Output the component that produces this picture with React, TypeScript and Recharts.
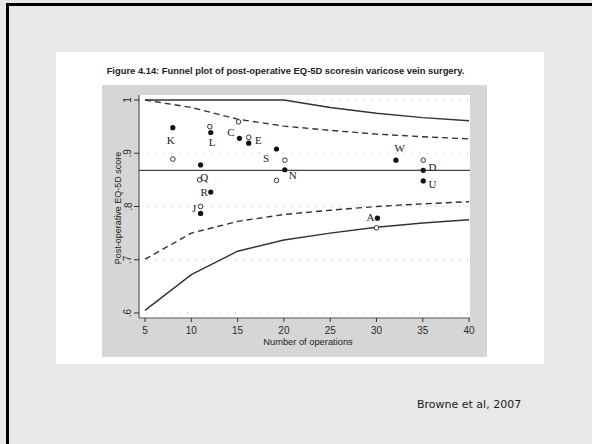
import React from "react";
import {
  ComposedChart,
  Line,
  Scatter,
  XAxis,
  YAxis,
  ReferenceLine,
} from "recharts";

// ---- data ----
const operations = [5, 10, 15, 20, 25, 30, 35, 40];
const upper998 = [1.0, 1.0, 1.0, 1.0, 0.986, 0.975, 0.967, 0.961];
const upper95 = [1.0, 0.986, 0.964, 0.951, 0.943, 0.936, 0.931, 0.927];
const lower95 = [0.701, 0.75, 0.772, 0.785, 0.793, 0.8, 0.805, 0.809];
const lower998 = [0.605, 0.672, 0.716, 0.737, 0.75, 0.761, 0.769, 0.775];
const meanScore = 0.868;

const filledX = [8, 12.1, 15.2, 16.2, 11, 12.1, 11, 19.2, 20.1, 32.1, 35.05, 35.05, 30.1];
const filledY = [0.948, 0.939, 0.928, 0.919, 0.878, 0.827, 0.787, 0.908, 0.869, 0.887, 0.868, 0.848, 0.778];
const openX = [8, 12, 15.1, 16.2, 10.9, 11, 20.1, 19.2, 35.05, 30];
const openY = [0.889, 0.95, 0.959, 0.93, 0.85, 0.8, 0.887, 0.849, 0.887, 0.76];

const labelText = ["K", "L", "C", "E", "Q", "R", "J", "S", "N", "W", "D", "U", "A"];
const labelX = [7.78, 12.26, 14.29, 17.24, 11.39, 11.39, 10.31, 18.08, 20.96, 32.52, 36.06, 36.06, 29.35];
const labelY = [0.925, 0.922, 0.94, 0.925, 0.855, 0.828, 0.797, 0.892, 0.859, 0.909, 0.875, 0.842, 0.78];

const xTicks = [5, 10, 15, 20, 25, 30, 35, 40];
const yTicks = [0.6, 0.7, 0.8, 0.9, 1];
const yTickLabels = [".6", ".7", ".8", ".9", "1"];

const titleText = "Figure 4.14: Funnel plot of post-operative EQ-5D scoresin varicose vein surgery.";
const xTitle = "Number of operations";
const yTitle = "Post-operative EQ-5D score";
const credit = "Browne et al, 2007";

// ---- built tables ----
const limitRows = operations.map((n, i) => ({
  n,
  u998: upper998[i],
  u95: upper95[i],
  l95: lower95[i],
  l998: lower998[i],
}));
const filledRows = filledX.map((x, i) => ({ n: x, v: filledY[i] }));
const openRows = openX.map((x, i) => ({ n: x, v: openY[i] }));
const labelRows = labelX.map((x, i) => ({ n: x, v: labelY[i], t: labelText[i] }));

const sans = "'Liberation Sans', Arial, sans-serif";
const serif = "'Liberation Serif', 'Times New Roman', serif";

const XTick = (p: any) => (
  <text x={p.x} y={318 + 12} textAnchor="middle" dominantBaseline="central" fontSize={10} fontFamily={sans} fill="#2a2a2a">
    {p.payload.value}
  </text>
);

const YTick = (p: any) => {
  const idx = yTicks.findIndex((t) => Math.abs(t - p.payload.value) < 1e-6);
  const x = 128;
  return (
    <text
      x={x}
      y={p.y}
      transform={`rotate(-90, ${x}, ${p.y})`}
      textAnchor="middle"
      dominantBaseline="central"
      fontSize={10}
      fontFamily={sans}
      fill="#2a2a2a"
    >
      {idx >= 0 ? yTickLabels[idx] : ""}
    </text>
  );
};

export default function App() {
  return (
    <div
      style={{
        position: "absolute",
        left: 0,
        top: 0,
        width: 592,
        height: 444,
        background: "#e8e8e8",
        overflow: "hidden",
      }}
    >
      <div
        style={{
          position: "absolute",
          left: 6,
          top: 3,
          width: 700,
          height: 600,
          borderLeft: "3px solid #000",
          borderTop: "3px solid #000",
        }}
      />
      <div style={{ position: "absolute", left: 56, top: 52, width: 488, height: 312, background: "#fff" }} />
      <div style={{ position: "absolute", left: 102, top: 85, width: 385, height: 272, background: "#d6d6d6" }} />
      <div style={{ position: "absolute", left: 139, top: 95, width: 331, height: 223, background: "#fff" }} />
      <div
        style={{
          position: "absolute",
          left: 56,
          width: 459,
          top: 65,
          textAlign: "center",
          fontFamily: sans,
          fontWeight: "bold",
          fontSize: 9.4,
          color: "#222",
          whiteSpace: "nowrap",
          lineHeight: "12px",
        }}
      >
        {titleText}
      </div>
      <div
        style={{
          position: "absolute",
          left: 417,
          top: 397,
          fontFamily: "'DejaVu Sans', Verdana, sans-serif",
          fontSize: 11,
          color: "#1a1a1a",
          whiteSpace: "nowrap",
          lineHeight: "16px",
        }}
      >
        {credit}
      </div>
      <div style={{ position: "absolute", left: 0, top: 0 }}>
        <ComposedChart
          width={592}
          height={444}
          data={limitRows}
          margin={{ top: 95, left: 109, right: 122, bottom: 106 }}
          style={{ overflow: "visible" }}
        >
          <XAxis
            dataKey="n"
            type="number"
            domain={[4.35, 40.1]}
            ticks={xTicks}
            allowDataOverflow
            height={20}
            tick={<XTick />}
            tickSize={4}
            tickLine={{ stroke: "#333" }}
            axisLine={{ stroke: "#555", strokeWidth: 1.2 }}
            interval={0}
          />
          <YAxis
            type="number"
            domain={[0.5906, 1.0094]}
            ticks={yTicks}
            allowDataOverflow
            width={30}
            tick={<YTick />}
            tickSize={5}
            tickLine={{ stroke: "#333" }}
            axisLine={{ stroke: "#555", strokeWidth: 1.2 }}
            interval={0}
          />
          {yTicks.map((t) => (
            <ReferenceLine key={t} y={t} stroke="#bbb" strokeDasharray="1 7" strokeWidth={1} />
          ))}
          <ReferenceLine y={meanScore} stroke="#444" strokeWidth={1.3} />
          <Line dataKey="u998" stroke="#333" strokeWidth={1.4} dot={false} isAnimationActive={false} />
          <Line dataKey="u95" stroke="#333" strokeWidth={1.4} strokeDasharray="6 4" dot={false} isAnimationActive={false} />
          <Line dataKey="l95" stroke="#333" strokeWidth={1.4} strokeDasharray="6 4" dot={false} isAnimationActive={false} />
          <Line dataKey="l998" stroke="#333" strokeWidth={1.4} dot={false} isAnimationActive={false} />
          <Scatter
            data={openRows}
            dataKey="v"
            isAnimationActive={false}
            shape={(p: any) => <circle cx={p.cx} cy={p.cy} r={2.3} fill="#fff" stroke="#333" strokeWidth={1} />}
          />
          <Scatter
            data={filledRows}
            dataKey="v"
            isAnimationActive={false}
            shape={(p: any) => <circle cx={p.cx} cy={p.cy} r={2.6} fill="#111" />}
          />
          <Scatter
            data={labelRows}
            dataKey="v"
            isAnimationActive={false}
            shape={(p: any) => (
              <text
                x={p.cx}
                y={p.cy}
                textAnchor="middle"
                dominantBaseline="central"
                fontSize={11}
                fontFamily={serif}
                fill="#222"
              >
                {p.payload.t}
              </text>
            )}
          />
        </ComposedChart>
      </div>
      <div
        style={{
          position: "absolute",
          left: 308,
          top: 342,
          transform: "translate(-50%, -50%)",
          fontFamily: sans,
          fontSize: 9.3,
          lineHeight: "10px",
          color: "#222",
          whiteSpace: "nowrap",
        }}
      >
        {xTitle}
      </div>
      <div
        style={{
          position: "absolute",
          left: 118,
          top: 208,
          transform: "translate(-50%, -50%) rotate(-90deg)",
          fontFamily: sans,
          fontSize: 9,
          color: "#222",
          whiteSpace: "nowrap",
        }}
      >
        {yTitle}
      </div>
    </div>
  );
}
